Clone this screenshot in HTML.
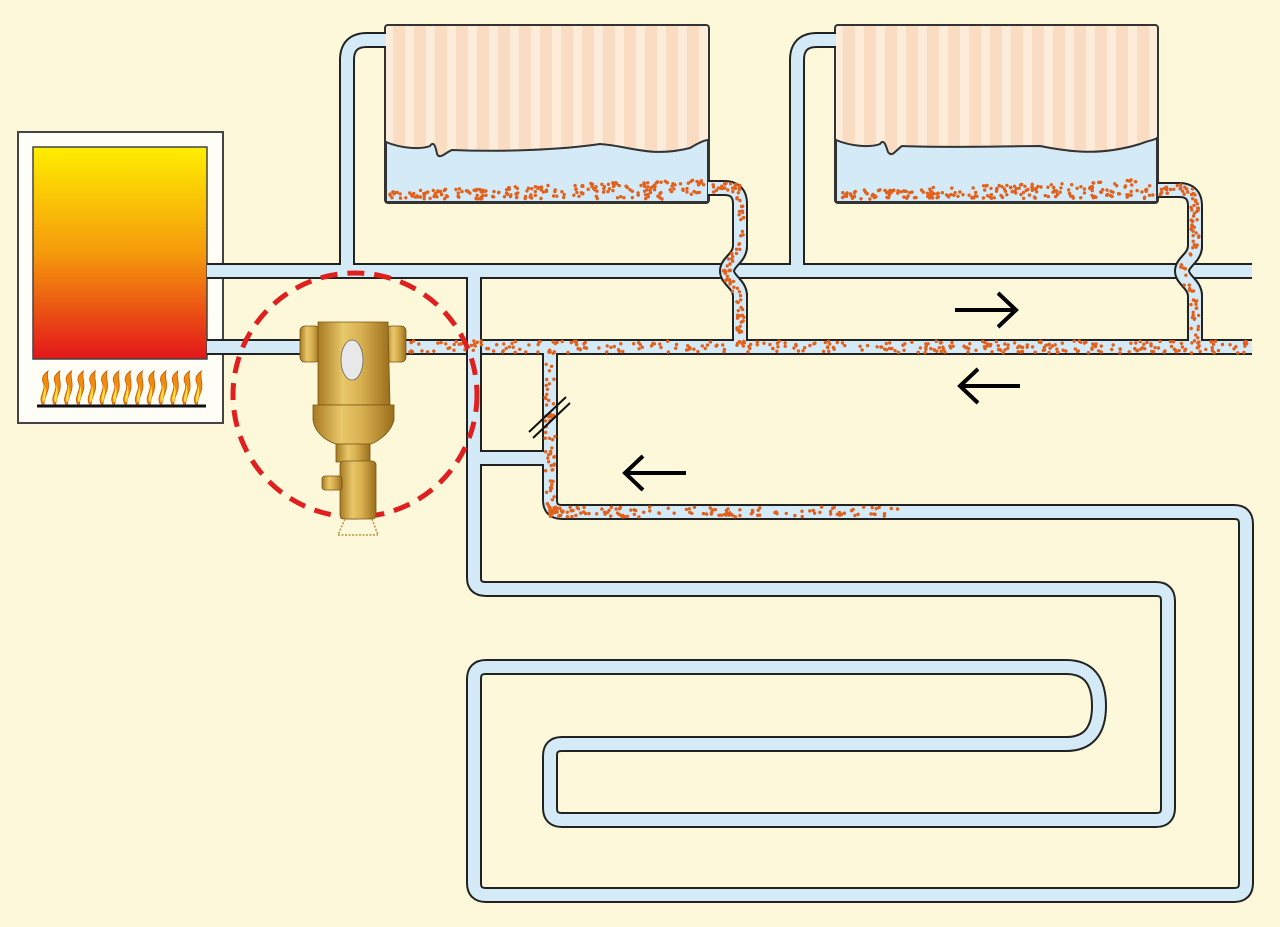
<!DOCTYPE html>
<html><head><meta charset="utf-8"><style>
html,body{margin:0;padding:0;background:#fdf8da;}
svg{display:block;}
</style></head><body>
<svg id="s" width="1280" height="927" viewBox="0 0 1280 927" xmlns="http://www.w3.org/2000/svg">
<defs>
<linearGradient id="fire" x1="0" y1="0" x2="0" y2="1">
<stop offset="0" stop-color="#ffee00"/><stop offset="0.5" stop-color="#f59a0c"/><stop offset="1" stop-color="#e2161a"/>
</linearGradient>
<linearGradient id="brass" x1="0" y1="0" x2="1" y2="0">
<stop offset="0" stop-color="#a77a22"/><stop offset="0.35" stop-color="#e8c86a"/><stop offset="0.6" stop-color="#d8b050"/><stop offset="1" stop-color="#9a6e1c"/>
</linearGradient>
<pattern id="stripes" x="393" y="0" width="21" height="10" patternUnits="userSpaceOnUse">
<rect width="21" height="10" fill="#fdecd9"/><rect width="12" height="10" fill="#f9dcc2"/>
</pattern>
<pattern id="stripes2" x="843" y="0" width="21" height="10" patternUnits="userSpaceOnUse">
<rect width="21" height="10" fill="#fdecd9"/><rect width="12" height="10" fill="#f9dcc2"/>
</pattern>
</defs>
<rect width="1280" height="927" fill="#fdf8da"/>

<!-- boiler -->
<rect x="18" y="132" width="205" height="291" fill="#fefdf6" stroke="#444" stroke-width="2"/>
<rect x="33" y="147" width="174" height="212" fill="url(#fire)" stroke="#444" stroke-width="1.5"/>
<line x1="37" y1="406" x2="206" y2="406" stroke="#111" stroke-width="3"/>
<g id="flames" fill="#f08a10" stroke="#c85a00" stroke-width="0.8"></g>

<!-- radiators -->
<g stroke="#333" stroke-width="2">
<rect x="385" y="25" width="324" height="178" rx="3" fill="url(#stripes)"/>
<path d="M386,142 C400,148 420,150 430,146 C434,140 436,148 437,154 C440,160 446,152 452,150 C500,152 560,150 600,144 C630,146 650,158 690,148 C700,142 705,140 708,140 L708,202 L386,202 Z" fill="#d4eaf7"/>
<rect x="835" y="25" width="323" height="178" rx="3" fill="url(#stripes2)"/>
<path d="M836,140 C850,146 870,148 880,144 C884,138 886,146 888,152 C892,158 896,150 902,146 C950,148 1010,146 1040,146 C1070,152 1100,156 1140,144 C1150,140 1155,140 1157,138 L1157,202 L836,202 Z" fill="#d4eaf7"/>
</g>

<!-- pipe network -->
<g id="net" fill="none" stroke-linejoin="round" stroke-linecap="butt">
<g id="pipesA"></g>
</g>

<!-- dashed circle -->
<circle cx="355" cy="395" r="122" fill="none" stroke="#e01f1f" stroke-width="5" stroke-dasharray="17 10"/>

<!-- valve -->
<g stroke="#7a5410" stroke-width="0.8">
<rect x="300" y="326" width="20" height="36" rx="5" fill="url(#brass)"/>
<rect x="386" y="326" width="20" height="36" rx="5" fill="url(#brass)"/>
<path d="M318,322 L388,322 L390,405 L318,405 Z" fill="url(#brass)"/>
<path d="M313,405 L394,405 L394,420 C390,435 375,443 368,445 L340,445 C330,443 315,435 313,420 Z" fill="url(#brass)"/>
<rect x="336" y="444" width="34" height="18" fill="url(#brass)"/>
<rect x="340" y="461" width="36" height="58" rx="4" fill="url(#brass)"/>
<rect x="322" y="476" width="20" height="14" rx="3" fill="url(#brass)"/>
<path d="M345,519 L338,535 M372,519 L378,535 M338,535 L378,535" stroke="#b8943a" stroke-width="1.5" fill="none" stroke-dasharray="2 1.5"/>
<ellipse cx="352" cy="360" rx="11" ry="20" fill="#e8e8e8" stroke="#666"/>
</g>

<!-- break slashes -->
<line x1="529" y1="432" x2="566" y2="397" stroke="#111" stroke-width="2"/>
<line x1="533" y1="438" x2="570" y2="403" stroke="#111" stroke-width="2"/>

<!-- arrows -->
<g stroke="#000" stroke-width="4" fill="none" stroke-linecap="butt">
<path d="M955,310 L1016,310 M998,293 L1016,310 L998,327"/>
<path d="M1020,386 L960,386 M978,369 L960,386 L978,403"/>
<path d="M686,473 L625,473 M643,456 L625,473 L643,490"/>
</g>
</svg>
<script>
(function(){
var NS="http://www.w3.org/2000/svg";
function el(p,t,a){var e=document.createElementNS(NS,t);for(var k in a)e.setAttribute(k,a[k]);p.appendChild(e);return e;}
var A=document.getElementById("pipesA");
function wig(x){return "L"+x+",246 C"+x+",258 "+(x-13)+",262 "+(x-13)+",271 C"+(x-13)+",280 "+x+",284 "+x+",296";}
var main=[
"M207,271 L1252,271",
"M207,347 L1252,347",
"M347,271 L347,60 Q347,40 367,40 L386,40",
"M797,271 L797,60 Q797,40 817,40 L836,40",
"M474,271 L474,578 Q474,589 486,589 L1156,589 Q1168,589 1168,601 L1168,808 Q1168,820 1156,820 L562,820 Q550,820 550,808 L550,756 Q550,744 562,744 L1066,744 Q1099,744 1099,706 Q1099,667 1066,667 L486,667 Q474,667 474,679 L474,883 Q474,895 486,895 L1234,895 Q1246,895 1246,883 L1246,524 Q1246,512 1234,512 L562,512 Q550,512 550,500 L550,347",
"M474,458 L550,458",
"M708,188 L724,188 Q740,188 740,204 "+wig(740)+" L740,347",
"M1158,190 L1179,190 Q1195,190 1195,206 "+wig(1195)+" L1195,347"
];
main.forEach(function(d){el(A,"path",{d:d,stroke:"#222","stroke-width":16});});
main.forEach(function(d){el(A,"path",{d:d,stroke:"#d4eaf7","stroke-width":12});});
var cross=["M740,240 "+wig(740).replace(/^L740,246/,"L740,246")+" L740,302","M1195,240 "+wig(1195)+" L1195,302","M474,330 L474,366"];
cross.forEach(function(d){el(A,"path",{d:d,stroke:"#222","stroke-width":16});});
cross.forEach(function(d){el(A,"path",{d:d,stroke:"#d4eaf7","stroke-width":12});});
el(A,"rect",{x:1252,y:260,width:10,height:100,fill:"#fdf8da",stroke:"none"});
var seed=7;function r(){seed=(seed*16807)%2147483647;return seed/2147483647;}
var G=el(A,"g",{fill:"#e2601a"});
function dot(x,y){el(G,"circle",{cx:x.toFixed(1),cy:y.toFixed(1),r:1.7});}
var i;
for(i=0;i<330;i++)dot(410+r()*840,341+r()*12);
for(i=0;i<60;i++)dot(545+r()*10,350+r()*160);
for(i=0;i<150;i++){var t=Math.pow(r(),1.8);dot(550+t*360,507+r()*10);}
function outlet(x0,x1,yo){for(var k=0;k<25;k++)dot(x0+r()*(x1-x0),yo-5+r()*10);
 for(var k=0;k<70;k++){var y=196+r()*150;var off=0;if(y>246&&y<296){off=-13*Math.sin((y-246)/50*Math.PI);}dot(x1-4+r()*8+off,y);}}
outlet(712,740,188);outlet(1160,1195,190);
function sed(x0,x1){for(var k=0;k<220;k++){var x=x0+r()*(x1-x0);var f=(x-x0)/(x1-x0);var h=8+f*12;dot(x,199-r()*h);}}
sed(390,705);sed(840,1154);
var F=document.getElementById("flames");
for(i=0;i<14;i++){var x=42+i*11.8;
 el(F,"path",{d:"M"+x+",404 C"+(x-4)+",396 "+(x+5)+",390 "+(x+1)+",382 C"+(x-1)+",377 "+(x+3)+",373 "+(x+6)+",371 C"+(x+4)+",377 "+(x+8)+",382 "+(x+6)+",390 C"+(x+4)+",396 "+(x+2)+",400 "+(x+2)+",404 Z"});
 el(F,"path",{d:"M"+(x+1)+",402 C"+(x-1)+",396 "+(x+4)+",391 "+(x+2)+",384 C"+(x+4)+",388 "+(x+5)+",394 "+(x+2)+",402 Z",fill:"#ffe040",stroke:"none"});}
})();
</script>
</body></html>
